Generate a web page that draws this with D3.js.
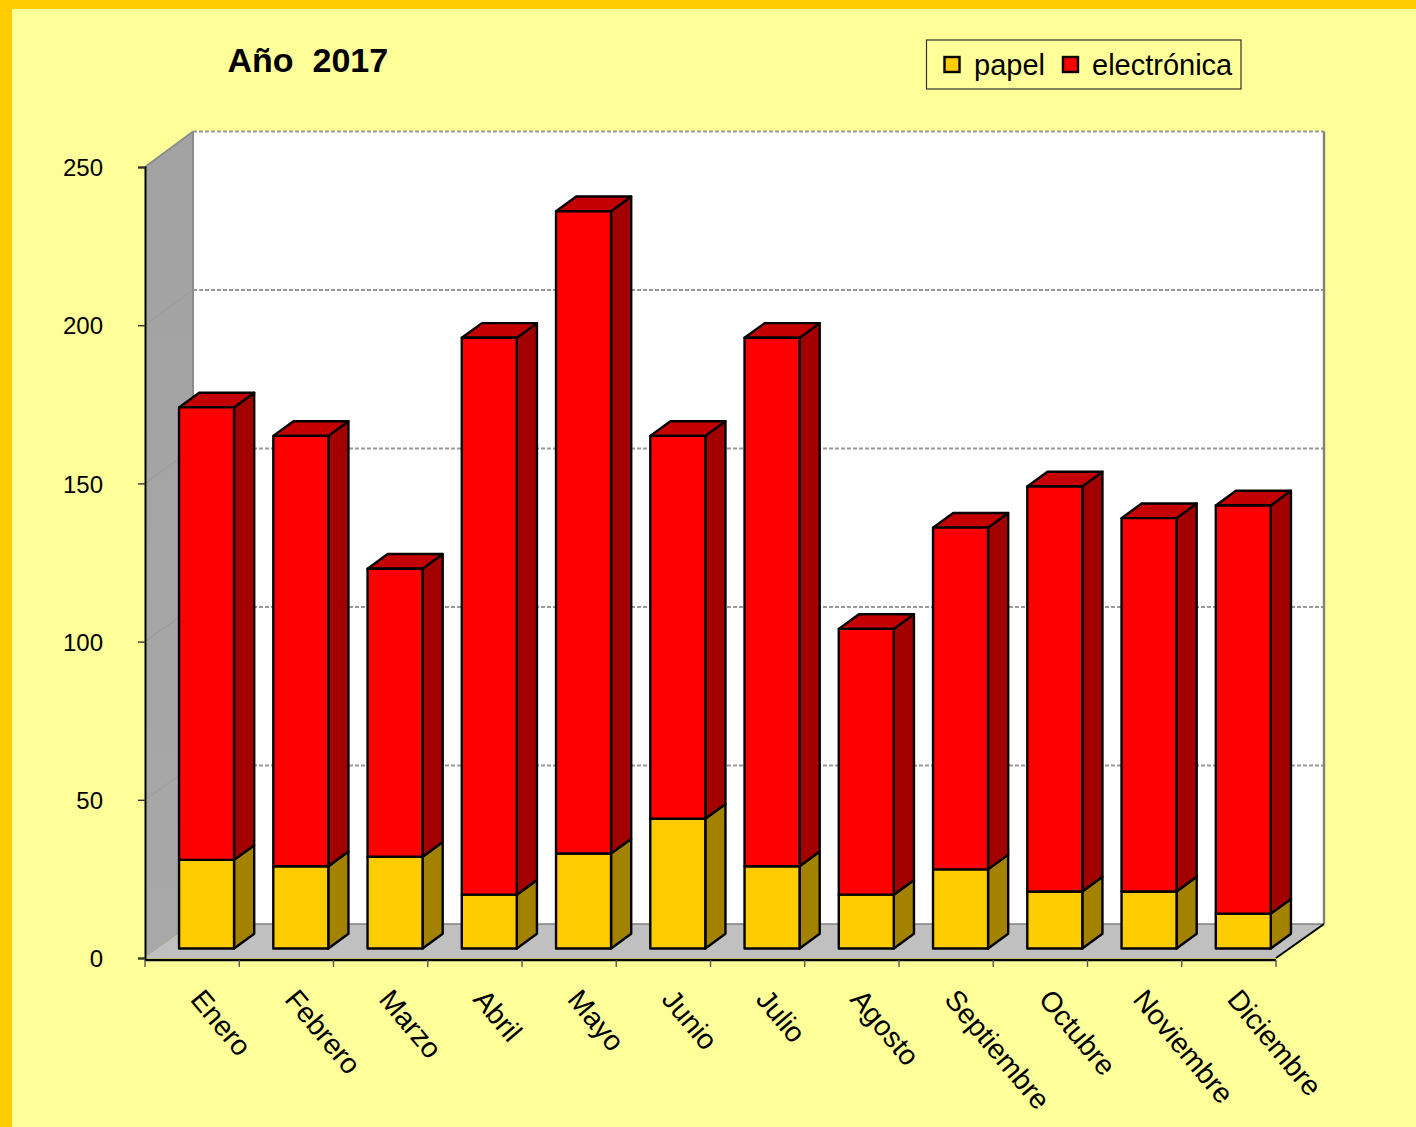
<!DOCTYPE html>
<html><head><meta charset="utf-8">
<script src="https://cdn.jsdelivr.net/npm/d3@7"></script>
<style>html,body{margin:0;padding:0;background:#FFFF99;overflow:hidden}svg{display:block}text{font-family:"Liberation Sans",Arial,sans-serif;fill:#000}</style>
</head><body><svg id="c" width="1416" height="1127"></svg>
<script>
const months=["Enero","Febrero","Marzo","Abril","Mayo","Junio","Julio","Agosto","Septiembre","Octubre","Noviembre","Diciembre"];
const papel=[28,26,29,17,30,41,26,17,25,18,18,11];
const electronica=[143,136,91,176,203,121,167,84,108,128,118,129];
const yTicks=[0,50,100,150,200,250];
const seriesNames=["papel","electrónica"];
const titleText="Año  2017";

const svg=d3.select("#c");
const W=1416,H=1127;
const y=d3.scaleLinear().domain([0,250]).range([958,167]);
const yBack=d3.scaleLinear().domain([0,250]).range([924,131.5]);
const x=d3.scaleBand().domain(months).range([145,1276]);
const depth=d3.scaleLinear().domain([0,1]).range([0,48]);
const rise=d3.scaleLinear().domain([0,1]).range([0,-35]);
const P=(px,py,d=0)=>[px+depth(d),py+rise(d)];
const poly=(pts)=>d3.line()(pts)+"Z";

svg.append("rect").attr("width",W).attr("height",H).attr("fill","#FFFF99");
svg.append("rect").attr("width",W).attr("height",9).attr("fill","#FFCC00");
svg.append("rect").attr("width",12).attr("height",H).attr("fill","#FFCC00");

const x0=x.range()[0],x1=x.range()[1],yb=y(0),yt=y(250);
const bx0=x0+depth(1),bx1=x1+depth(1);
const defs=svg.append("defs");
const g=defs.append("linearGradient").attr("id","wall").attr("x1",0).attr("y1",0).attr("x2",0).attr("y2",1);
g.append("stop").attr("offset",0).attr("stop-color","#A2A2A2");
g.append("stop").attr("offset",1).attr("stop-color","#A8A8A8");

svg.append("path").attr("d",poly([[bx0,yBack(250)],[bx1,yBack(250)],[bx1,yBack(0)],[bx0,yBack(0)]])).attr("fill","#fff");
svg.append("path").attr("d",poly([P(x0,yt),[bx0,yBack(250)],[bx0,yBack(0)],P(x0,yb)])).attr("fill","url(#wall)");
svg.append("path").attr("d",poly([P(x0,yb),[bx0,yBack(0)],[bx1,yBack(0)],P(x1,yb)])).attr("fill","#C0C0C0");

yTicks.slice(1).forEach(t=>{
  svg.append("line").attr("x1",bx0).attr("y1",yBack(t)).attr("x2",bx1).attr("y2",yBack(t))
    .attr("stroke","#9a9a9a").attr("stroke-width",2).attr("stroke-dasharray","4 2");
  svg.append("line").attr("x1",x0).attr("y1",y(t)).attr("x2",bx0).attr("y2",yBack(t))
    .attr("stroke","#999").attr("stroke-width",1);
});
svg.append("path").attr("d",d3.line()([P(x0,yt),[bx0,yBack(250)]])).attr("stroke","#8c8c8c").attr("stroke-width",1.8);
svg.append("path").attr("d",d3.line()([[bx1,yBack(250)],[bx1,yBack(0)]])).attr("stroke","#808080").attr("stroke-width",2.4).attr("fill","none");
svg.append("path").attr("d",d3.line()([[bx0,yBack(0)],[bx1,yBack(0)]])).attr("stroke","#808080").attr("stroke-width",1.4).attr("fill","none");
svg.append("path").attr("d",d3.line()([[bx0,yBack(0)],[bx0,yBack(250)]])).attr("stroke","#8c8c8c").attr("stroke-width",2).attr("fill","none");

const barFront=0.29, barBack=0.71, barW=55;
const stacks=d3.stack().keys([0,1]).value((d,k)=>d[k])(months.map((m,i)=>[papel[i],electronica[i]]));
const colors=[{f:"#FFCC00",s:"#A38200",t:"#A38200"},{f:"#FF0000",s:"#A30000",t:"#C40000"}];
stacks.forEach((s,k)=>{
  const c=colors[k];
  const gr=svg.append("g").attr("transform","translate(0.5,0.6)").attr("stroke","#000").attr("stroke-width",2.4).attr("stroke-linejoin","round");
  s.forEach((d,i)=>{
    const cx=x(months[i])+x.bandwidth()/2;
    const l=cx-barW/2, r=cx+barW/2;
    const top=y(d[1]), bot=y(d[0]);
    gr.append("path").attr("d",poly([P(r,top,barFront),P(r,top,barBack),P(r,bot,barBack),P(r,bot,barFront)])).attr("fill",c.s);
    if(k===1) gr.append("path").attr("d",poly([P(l,top,barFront),P(l,top,barBack),P(r,top,barBack),P(r,top,barFront)])).attr("fill",c.t);
    gr.append("path").attr("d",poly([P(l,top,barFront),P(r,top,barFront),P(r,bot,barFront),P(l,bot,barFront)])).attr("fill",c.f);
  });
});

svg.append("path").attr("d",d3.line()([P(x1,yb),[bx1,yBack(0)]])).attr("stroke","#000").attr("stroke-width",2);
const axY=svg.append("g").attr("transform",`translate(${x0},0)`)
  .call(d3.axisLeft(y).tickValues(yTicks).tickSize(7).tickPadding(34));
axY.selectAll("text").attr("font-size",24).attr("dy",".36em").attr("x",-42).style("font-family",'"Liberation Sans"');
axY.select(".domain").attr("stroke","#000").attr("stroke-width",2);
axY.selectAll(".tick line").attr("stroke","#333").attr("stroke-width",1.4);

const axX=svg.append("g").attr("transform",`translate(0,${yb+2})`);
axX.append("line").attr("x1",x0).attr("x2",x1).attr("stroke","#000").attr("stroke-width",2.4);
axX.selectAll("line.t").data(d3.range(13)).join("line").attr("class","t")
  .attr("x1",i=>x0+x.step()*i).attr("x2",i=>x0+x.step()*i).attr("y1",0).attr("y2",7).attr("stroke","#555").attr("stroke-width",1.4);
svg.append("g").selectAll("text").data(months).join("text")
  .attr("transform",m=>`translate(${x(m)+x.bandwidth()/2-3},1000) rotate(50)`)
  .attr("font-size",28.5).text(d=>d);

svg.append("text").attr("x",227.5).attr("y",72).attr("font-size",34).attr("font-weight","bold").attr("xml:space","preserve").style("white-space","pre").text(titleText);

svg.append("rect").attr("x",926.5).attr("y",40).attr("width",314.5).attr("height",49).attr("fill","#FFFF99").attr("stroke","#333").attr("stroke-width",1.2);
const lg=[{n:seriesNames[0],c:colors[0].f,sx:944.5,tx:974},{n:seriesNames[1],c:colors[1].f,sx:1063,tx:1092}];
lg.forEach(l=>{
  svg.append("rect").attr("x",l.sx).attr("y",57).attr("width",15).attr("height",15).attr("fill",l.c).attr("stroke","#000").attr("stroke-width",2.4);
  svg.append("text").attr("x",l.tx).attr("y",75).attr("font-size",29).text(l.n);
});
</script></body></html>
